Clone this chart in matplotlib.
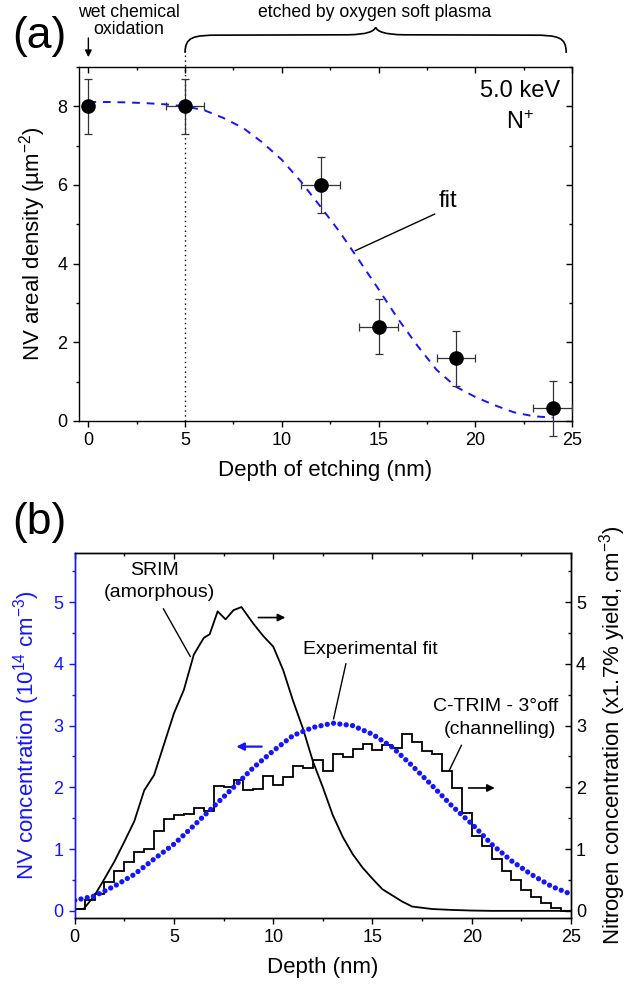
import numpy as np
import matplotlib
matplotlib.use("Agg")
import matplotlib.pyplot as plt
from matplotlib.path import Path
from matplotlib.patches import PathPatch
from matplotlib.ticker import MultipleLocator

plt.rcParams['font.family'] = ['Liberation Sans', 'DejaVu Sans']
plt.rcParams['mathtext.fontset'] = 'custom'
plt.rcParams['mathtext.rm'] = 'Liberation Sans'
plt.rcParams['mathtext.it'] = 'Liberation Sans:italic'

# ---- panel (a) data ----
etch_depth = [0, 5, 12, 15, 19, 24]
nv_density = [8.0, 8.0, 6.0, 2.4, 1.6, 0.32]
depth_err = [0, 1, 1, 1, 1, 1]
density_err = [0.7, 0.7, 0.7, 0.7, 0.7, 0.7]

fit_x = [0, 1, 2, 3, 4, 5, 6, 7, 8, 9, 10, 11, 12, 13, 14, 15, 16, 17, 18, 19, 20, 21, 22, 23, 24]
fit_y = [8.11, 8.11, 8.10, 8.08, 8.05, 8.00, 7.90, 7.70, 7.45, 7.08, 6.64, 6.08, 5.45, 4.80,
         4.08, 3.35, 2.60, 1.92, 1.30, 0.87, 0.61, 0.40, 0.22, 0.12, 0.085]

# ---- panel (b) data ----
srim_x = [0, 0.45, 1.0, 1.5, 2.0, 2.5, 3.0, 3.5, 4.0, 4.5, 5.0, 5.5, 6.0, 6.5, 6.8, 7.2, 7.6,
          8.0, 8.4, 9.0, 9.5, 10.0, 10.5, 11.0, 11.5, 12.0, 12.5, 13.0, 13.5, 14.0, 14.5,
          15.0, 15.5, 16.0, 16.5, 17.0, 17.5, 18.0, 19.0, 20.0, 21.0, 22.0, 23.0, 24.0, 25.0]
srim_y = [0.03, 0.03, 0.25, 0.52, 0.80, 1.12, 1.45, 1.95, 2.20, 2.70, 3.20, 3.58, 4.15, 4.42,
          4.48, 4.85, 4.72, 4.87, 4.92, 4.65, 4.45, 4.28, 3.90, 3.40, 2.95, 2.42, 2.00, 1.55,
          1.20, 0.92, 0.70, 0.52, 0.35, 0.25, 0.15, 0.07, 0.05, 0.03, 0.015, 0.005, 0, 0, 0, 0, 0]

# C-TRIM histogram, 0.5 nm bins starting at 0 nm
ctrim_bin = 0.5
ctrim_y = [0.03, 0.17, 0.27, 0.46, 0.64, 0.79, 0.95, 1.00, 1.30, 1.49,
           1.55, 1.57, 1.66, 1.62, 2.03, 2.00, 2.12, 1.95, 1.98, 2.18,
           2.04, 2.17, 2.34, 2.32, 2.44, 2.26, 2.54, 2.49, 2.62, 2.71,
           2.61, 2.69, 2.63, 2.86, 2.74, 2.59, 2.54, 2.27, 1.99, 1.58,
           1.22, 1.05, 0.84, 0.65, 0.50, 0.34, 0.23, 0.12, 0.04, 0.0]
ctrim_edges = np.arange(len(ctrim_y) + 1) * ctrim_bin

expfit_x = [0, 1, 2, 3, 4, 5, 6, 7, 8, 9, 10, 11, 12, 13, 14, 15, 16, 17, 18, 19, 20,
            21, 22, 23, 24, 25]
expfit_y = [0.17, 0.24, 0.40, 0.59, 0.84, 1.08, 1.38, 1.69, 2.00, 2.32, 2.59, 2.84, 2.97,
            3.04, 3.00, 2.86, 2.65, 2.35, 2.03, 1.70, 1.41, 1.08, 0.81, 0.59, 0.40, 0.27]

BLUE = '#1414ff'
TICK_FS = 13
LABEL_FS = 16

fig = plt.figure(figsize=(6.31, 9.84), dpi=100)

# ================= panel (a) =================
axa = fig.add_axes([0.1247, 0.5722, 0.7818, 0.3597])
axa.errorbar(etch_depth, nv_density, xerr=depth_err, yerr=density_err, fmt='o',
             color='black', markersize=9.5, ecolor='#333333', elinewidth=0.9,
             capsize=3, capthick=0.9, zorder=4, clip_on=False)
axa.plot(fit_x, fit_y, color=BLUE, linestyle=(0, (4, 3.5)), linewidth=1.4, zorder=3)
axa.set_xlim(-0.5, 25)
axa.set_ylim(0, 9)
axa.xaxis.set_major_locator(MultipleLocator(5))
axa.xaxis.set_minor_locator(MultipleLocator(2.5))
axa.yaxis.set_major_locator(MultipleLocator(2))
axa.yaxis.set_minor_locator(MultipleLocator(1))
axa.tick_params(which='both', width=1, labelsize=TICK_FS, direction='out')
axa.tick_params(which='major', length=4.5)
axa.tick_params(which='minor', length=2.5)
# mirrored ticks pointing inwards on top / right
axa.tick_params(axis='x', which='both', top=True)
axa.tick_params(axis='y', which='both', right=True)
for t in axa.xaxis.get_major_ticks() + axa.xaxis.get_minor_ticks():
    t.tick2line.set_marker(3)
for t in axa.yaxis.get_major_ticks() + axa.yaxis.get_minor_ticks():
    t.tick2line.set_marker(0)
for s in axa.spines.values():
    s.set_linewidth(1.0)
axa.set_xlabel('Depth of etching (nm)', fontsize=LABEL_FS, labelpad=8)
axa.set_ylabel('NV areal density (µm$^{-2}$)', fontsize=LABEL_FS, labelpad=7)

axa.text(22.3, 8.38, '5.0 keV', fontsize=17, ha='center', va='center')
axa.text(22.3, 7.6, 'N$^{+}$', fontsize=17, ha='center', va='center')
axa.text(18.6, 5.6, 'fit', fontsize=17, ha='center', va='center')
axa.plot([17.9, 13.8], [5.26, 4.33], color='black', linewidth=1)

# vertical dotted line at 5 nm, reaching above the frame
trans_a = axa.get_xaxis_transform()
axa.plot([5, 5], [0, 1.06], color='black', linestyle=(0, (1, 2.5)), linewidth=1,
         transform=trans_a, clip_on=False, zorder=2)

# annotations above panel (a)
axa.text(2.1, 1.13, 'wet chemical\noxidation', transform=trans_a, ha='center', va='center',
         fontsize=12.7, linespacing=0.95)
axa.annotate('', xy=(0, 1.02), xytext=(0, 1.09), xycoords=trans_a, textcoords=trans_a,
             arrowprops=dict(arrowstyle='-|>', color='black', lw=1, mutation_scale=10))
axa.text(14.8, 1.153, 'etched by oxygen soft plasma', transform=trans_a, ha='center',
         va='center', fontsize=12.7)

# curly brace over the plasma-etched range
path_verts = [(5.0, 1.04),
              (5.0, 1.085), (5.4, 1.09), (6.8, 1.09),
              (13.4, 1.091),
              (14.4, 1.092), (14.75, 1.1), (14.85, 1.112),
              (14.95, 1.1), (15.3, 1.092), (16.3, 1.091),
              (22.9, 1.09),
              (24.3, 1.09), (24.7, 1.085), (24.7, 1.04)]
path_codes = [Path.MOVETO,
              Path.CURVE4, Path.CURVE4, Path.CURVE4,
              Path.LINETO,
              Path.CURVE4, Path.CURVE4, Path.CURVE4,
              Path.CURVE4, Path.CURVE4, Path.CURVE4,
              Path.LINETO,
              Path.CURVE4, Path.CURVE4, Path.CURVE4]
axa.add_patch(PathPatch(Path(path_verts, path_codes), facecolor='none', edgecolor='black',
                        linewidth=1.2, transform=trans_a, clip_on=False))

fig.text(0.063, 0.963, '(a)', fontsize=32, ha='center', va='center')

# ================= panel (b) =================
axb = fig.add_axes([0.1184, 0.0668, 0.7865, 0.3715])
axb2 = axb.twinx()

axb2.plot(srim_x, srim_y, color='black', linewidth=1.3)
axb2.stairs(ctrim_y, ctrim_edges, baseline=None, color='black', linewidth=1.3)
axb.plot(expfit_x, expfit_y, color=BLUE, linestyle=(0, (0.01, 1.2)), linewidth=3.8,
         dash_capstyle='round')
axb.set_zorder(axb2.get_zorder() + 1)
axb.patch.set_visible(False)

for ax in (axb, axb2):
    ax.set_xlim(0, 25)
    ax.set_ylim(-0.12, 5.8)
    ax.yaxis.set_major_locator(MultipleLocator(1))
    ax.yaxis.set_minor_locator(MultipleLocator(0.5))
    ax.tick_params(which='both', width=1, labelsize=TICK_FS)
    ax.tick_params(which='major', length=4.5)
    ax.tick_params(which='minor', length=2.5)
    for s in ax.spines.values():
        s.set_linewidth(1.0)

axb.xaxis.set_major_locator(MultipleLocator(5))
axb.xaxis.set_minor_locator(MultipleLocator(2.5))
axb.tick_params(axis='x', which='both', direction='out', top=True)
for t in axb.xaxis.get_major_ticks() + axb.xaxis.get_minor_ticks():
    t.tick2line.set_marker(3)
axb.tick_params(axis='y', which='both', direction='out', colors=BLUE)
axb.spines['left'].set_color(BLUE)
axb2.tick_params(axis='y', which='both', direction='in')
axb2.spines['left'].set_color(BLUE)

axb.set_xlabel('Depth (nm)', fontsize=LABEL_FS, labelpad=8)
axb.set_ylabel('NV concentration (10$^{14}$ cm$^{-3}$)', fontsize=LABEL_FS, color=BLUE,
               labelpad=8)
axb2.set_ylabel('Nitrogen concentration (x1.7% yield, cm$^{-3}$)', fontsize=LABEL_FS,
                labelpad=8)

# annotations panel (b)
axb2.text(4.0, 5.52, 'SRIM', fontsize=14, ha='center', va='center')
axb2.text(4.25, 5.15, '(amorphous)', fontsize=14, ha='center', va='center')
axb2.plot([4.47, 5.82], [4.89, 4.12], color='black', linewidth=1)
axb2.annotate('', xy=(10.75, 4.75), xytext=(9.11, 4.75),
              arrowprops=dict(arrowstyle='-|>', color='black', lw=1.2, mutation_scale=11))

axb2.text(14.9, 4.23, 'Experimental fit', fontsize=14, ha='center', va='center')
axb2.plot([13.66, 13.04], [4.0, 3.11], color='black', linewidth=1)
axb2.annotate('', xy=(8.0, 2.66), xytext=(9.56, 2.66),
              arrowprops=dict(arrowstyle='-|>', color=BLUE, lw=1.6, mutation_scale=11))

axb2.text(21.22, 3.31, 'C-TRIM - 3°off', fontsize=14, ha='center', va='center')
axb2.text(21.42, 2.93, '(channelling)', fontsize=14, ha='center', va='center')
axb2.plot([19.48, 18.86], [2.68, 2.27], color='black', linewidth=1)
axb2.annotate('', xy=(21.3, 1.99), xytext=(19.7, 1.99),
              arrowprops=dict(arrowstyle='-|>', color='black', lw=1.2, mutation_scale=11))

fig.text(0.063, 0.469, '(b)', fontsize=32, ha='center', va='center')

fig.savefig('out.png', dpi=100)
